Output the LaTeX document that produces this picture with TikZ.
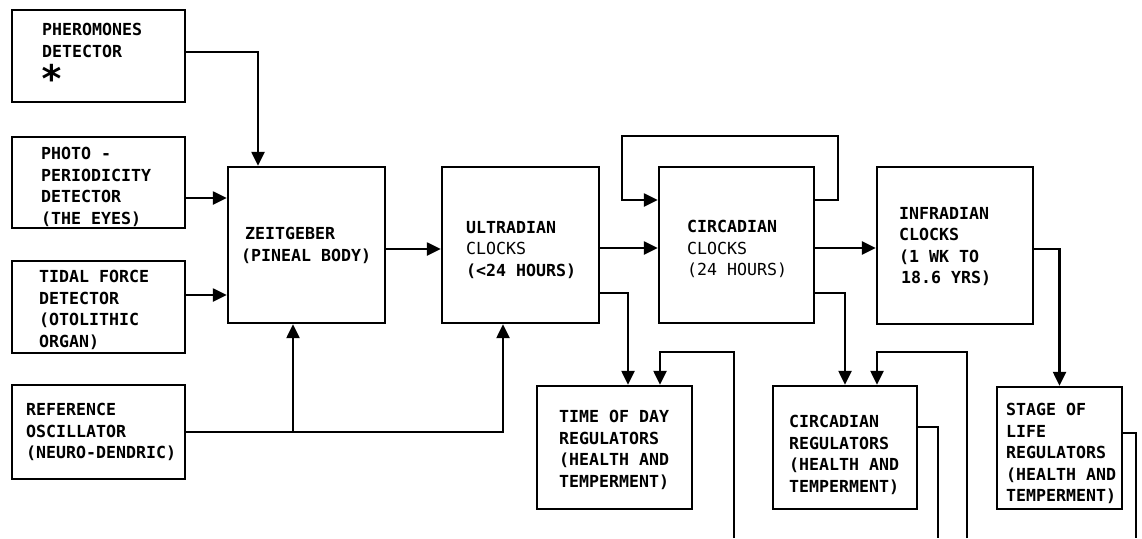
\documentclass[tikz,border=0pt]{standalone}
\usepackage{fontspec}
\newfontfamily\dmono{DejaVu Sans Mono}
\usetikzlibrary{arrows.meta}
\begin{document}
\begin{tikzpicture}[x=1pt,y=-1pt,
  box/.style={draw, line width=2.4pt, inner sep=0pt, minimum width=#1},
  txt/.style={anchor=north west, inner sep=0pt, align=left,
    font=\dmono\bfseries\fontsize{16.6}{21.5}\selectfont},
  conn/.style={line width=2.4pt, line join=miter},
  arr/.style={conn, -{Triangle[length=14pt,width=13pt]}}
]
\useasboundingbox (0,0) rectangle (1142,538);
% boxes
\node[box=173pt, minimum height=92pt] (pher) at (98.5,56) {};
\node[box=173pt, minimum height=91pt] (photo) at (98.5,182.5) {};
\node[box=173pt, minimum height=92pt] (tidal) at (98.5,307) {};
\node[box=173pt, minimum height=94pt] (ref) at (98.5,432) {};
\node[box=157pt, minimum height=156pt] (zeit) at (306.5,245) {};
\node[box=157pt, minimum height=156pt] (ultra) at (520.5,245) {};
\node[box=155pt, minimum height=156pt] (circ) at (736.5,245) {};
\node[box=156pt, minimum height=157pt] (infra) at (955,245.5) {};
\node[box=155pt, minimum height=123pt] (tod) at (614.5,447.5) {};
\node[box=144pt, minimum height=123pt] (creg) at (845,447.5) {};
\node[box=125pt, minimum height=122pt] (stage) at (1059.5,448) {};
% texts
\node[txt] (pherT) at (42,23) {PHEROMONES\\DETECTOR};
\node[inner sep=0pt, font=\dmono\bfseries\fontsize{38}{38}\selectfont] (ast) at (52,78) {*};
\node[txt] (photoT) at (41,147) {PHOTO -\\PERIODICITY\\DETECTOR\\(THE EYES)};
\node[txt] (tidalT) at (39,270) {TIDAL FORCE\\DETECTOR\\(OTOLITHIC\\ORGAN)};
\node[txt] (refT) at (26,403) {REFERENCE\\OSCILLATOR\\(NEURO-DENDRIC)};
\node[txt] (zeitT) at (241,227) {\hspace*{4pt}ZEITGEBER\\(PINEAL BODY)};
\node[txt] (ultraT) at (466,221) {ULTRADIAN\\{\mdseries CLOCKS}\\(<24 HOURS)};
\node[txt] (circT) at (687,220) {CIRCADIAN\\{\mdseries CLOCKS}\\{\mdseries (24 HOURS)}};
\node[txt] (infraT) at (899,207) {INFRADIAN\\CLOCKS\\(1 WK TO\\\hspace*{2pt}18.6 YRS)};
\node[txt] (todT) at (559,410) {TIME OF DAY\\REGULATORS\\(HEALTH AND\\TEMPERMENT)};
\node[txt] (cregT) at (789,415) {CIRCADIAN\\REGULATORS\\(HEALTH AND\\TEMPERMENT)};
\node[txt] (stageT) at (1006,403) {STAGE OF\\LIFE\\REGULATORS\\(HEALTH AND\\TEMPERMENT)};
% free ends at the bottom
\coordinate (b1) at (734,538);
\coordinate (b2) at (967,538);
\coordinate (b3) at (938,538);
\coordinate (b4) at (1136,538);
% inputs to zeitgeber
\draw[arr] ([yshift=4pt]pher.east) -| ([xshift=-48.5pt]zeit.north);
\draw[arr] ([yshift=-15.5pt]photo.east) -- ([yshift=-15.5pt]photo.east -| zeit.west);
\draw[arr] ([yshift=12pt]tidal.east) -- ([yshift=12pt]tidal.east -| zeit.west);
\draw[arr] (ref.east) -| ([xshift=-17.5pt]ultra.south);
\draw[arr] ([xshift=-13.5pt]zeit.south |- ref.east) -- ([xshift=-13.5pt]zeit.south);
% main chain
\draw[arr] ([yshift=-4pt]zeit.east) -- ([yshift=-4pt]ultra.west);
\draw[arr] ([yshift=-3pt]ultra.east) -- ([yshift=-3pt]circ.west);
\draw[arr] ([yshift=-3pt]circ.east) -- ([yshift=-3pt]circ.east -| infra.west);
% circadian self loop
\draw[arr] ([yshift=45pt]circ.east) -- ++(23,0) -- ++(0,-64) -| ([xshift=-36pt,yshift=45pt]circ.west) -- ([yshift=45pt]circ.west);
% outputs to regulators
\draw[arr] ([yshift=-48pt]ultra.east) -| ([xshift=13.5pt]tod.north);
\draw[arr] ([yshift=-48pt]circ.east) -| (creg.north);
\draw[arr] ([yshift=-3.5pt]infra.east) -| (stage.north);
% returns from below
\draw[arr] (b1) |- ([xshift=45.5pt,yshift=33pt]tod.north) -- ([xshift=45.5pt]tod.north);
\draw[arr] (b2) |- ([xshift=32pt,yshift=33pt]creg.north) -- ([xshift=32pt]creg.north);
\draw[conn] ([yshift=20.5pt]creg.east) -| (b3);
\draw[conn] ([yshift=15pt]stage.east) -| (b4);
\end{tikzpicture}
\end{document}
